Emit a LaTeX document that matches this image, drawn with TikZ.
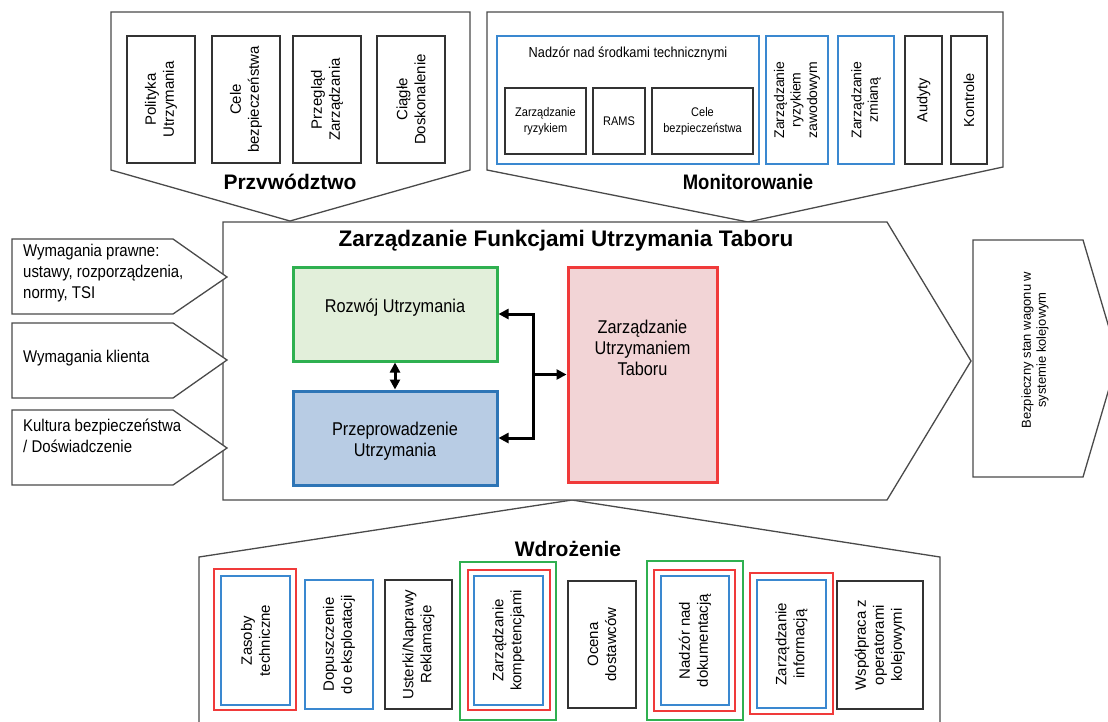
\documentclass[tikz,border=0pt]{standalone}
\usepackage{fontspec}
\setmainfont{Liberation Sans}
\newfontfamily\nar[FakeStretch=0.88]{Liberation Sans}
\usetikzlibrary{arrows.meta}
\definecolor{gline}{HTML}{4A4A4A}
\definecolor{cgreen}{HTML}{2FB050}
\definecolor{cgreenf}{HTML}{E2EFDA}
\definecolor{cblue}{HTML}{2E75B6}
\definecolor{cbluef}{HTML}{B8CCE4}
\definecolor{cred}{HTML}{F03A3A}
\definecolor{credf}{HTML}{F2D4D6}
\definecolor{sblue}{HTML}{3A88D0}
\newcommand{\fsz}[2]{\fontsize{#1}{#2}\selectfont}
\tikzset{
  frame/.style={draw=gline, line width=1.3pt, line join=miter, fill=white},
  bx/.style={draw=black!80, line width=1.2pt, inner sep=0pt, align=center},
  vbx/.style={bx, rotate=90},
  bluebx/.style={draw=sblue, line width=2.4pt},
  redbx/.style={draw=cred, line width=2.4pt, inner sep=0pt},
  greenbx/.style={draw=cgreen, line width=2.4pt, inner sep=0pt},
  rot/.style={font=\fsz{15}{18}},
  rotm/.style={font=\fsz{14}{16.5}},
  centre/.style={font=\nar\fsz{18.5}{21}, align=center, inner sep=0pt},
  cbox/.style={line width=3pt, inner sep=0pt},
  conn/.style={line width=3pt, black, {Triangle[length=10pt,width=10pt]}-{Triangle[length=10pt,width=10pt]}},
  conn1/.style={line width=3pt, black, -{Triangle[length=10pt,width=10pt]}},
  ttl/.style={font=\bfseries\fsz{21}{24}, inner sep=0pt},
  inp/.style={anchor=west, align=left, inner sep=0pt, font=\nar\fsz{17}{21}},
}
\begin{document}
\begin{tikzpicture}[x=1pt,y=-1pt]
\useasboundingbox (0,0) rectangle (1108,721);
\clip (0,0) rectangle (1108,721);
\fill[white] (0,0) rectangle (1108,721);

% ---------- Przywodztwo ----------
\draw[frame] (111,12) -- (470,12) -- (470,170) -- (290,221) -- (111,170) -- cycle;
\node[ttl] (przT) at (290,182) {Przvwództwo};
\node[vbx, rot, minimum width=127, minimum height=68] (pol) at (161,99.5) {Polityka\\Utrzymania};
\node[vbx, rot, minimum width=127, minimum height=68] (cel) at (246,99.5) {Cele\\bezpieczeństwa};
\node[vbx, rot, minimum width=127, minimum height=68] (prz) at (327,99.5) {Przegląd\\Zarządzania};
\node[vbx, rot, minimum width=127, minimum height=68] (cia) at (411,99.5) {Ciągłe\\Doskonalenie};

% ---------- Monitorowanie ----------
\draw[frame] (487,12) -- (1003,12) -- (1003,167) -- (748,222) -- (487,170) -- cycle;
\node[ttl, font=\nar\bfseries\fsz{21}{24}] (monT) at (748,182) {Monitorowanie};
\node[bx, bluebx, minimum width=262, minimum height=128] (nad) at (628,100) {};
\node[font=\nar\fsz{14.5}{17}, inner sep=0pt] (nadT) at (628,54) {Nadzór nad środkami technicznymi};
\node[bx, font=\nar\fsz{12.5}{16}, minimum width=81, minimum height=66] (zr) at (545.5,121) {Zarządzanie\\ryzykiem};
\node[bx, font=\nar\fsz{12.5}{16}, minimum width=52, minimum height=66] (rams) at (619,121) {RAMS};
\node[bx, font=\nar\fsz{12.5}{16}, minimum width=101, minimum height=66] (cb) at (702.5,121) {Cele\\bezpieczeństwa};
\node[vbx, bluebx, rotm, minimum width=128, minimum height=62] (zrz) at (797,100) {Zarządzanie\\ryzykiem\\zawodowym};
\node[vbx, bluebx, rotm, minimum width=128, minimum height=56] (zzm) at (866,100) {Zarządzanie\\zmianą};
\node[vbx, rotm, font=\fsz{14.5}{17}, minimum width=128, minimum height=37] (aud) at (923.5,100) {Audyty};
\node[vbx, rotm, font=\fsz{14.5}{17}, minimum width=128, minimum height=36] (kon) at (969,100) {Kontrole};

% ---------- Wdrozenie ----------
\draw[frame] (199,740) -- (199,557) -- (572,500) -- (940,557) -- (940,740) -- cycle;

% ---------- Central ----------
\draw[frame] (223,222) -- (887,222) -- (971,361) -- (887,500) -- (223,500) -- cycle;
\node[font=\bfseries\fsz{22.5}{26}, inner sep=0pt] (cT) at (566,241) {Zarządzanie Funkcjami Utrzymania Taboru};
\node[cbox, draw=cgreen, fill=cgreenf, minimum width=204, minimum height=94] (roz) at (395,314) {};
\node[centre] (rozT) at (395,308) {Rozwój Utrzymania};
\node[cbox, draw=cblue, fill=cbluef, minimum width=204, minimum height=94] (prze) at (395,438) {};
\node[centre] (przeT) at (395,441.5) {Przeprowadzenie\\Utrzymania};
\node[cbox, draw=cred, fill=credf, minimum width=149, minimum height=215] (zut) at (642.5,374.5) {};
\node[centre] (zutT) at (642.5,348) {Zarządzanie\\Utrzymaniem\\Taboru};

\coordinate (jt) at (533,314);
\coordinate (jb) at (533,438);
\coordinate (jm) at (533,374.5);
\draw[conn] (roz) -- (prze);
\draw[conn, line join=miter] (roz.east) -- (jt) -- (jb) -- (prze.east);
\draw[conn1] (jm) -- (zut.west);

% ---------- Inputs ----------
\draw[frame] (12,239) -- (173,239) -- (227,277) -- (173,314) -- (12,314) -- cycle;
\draw[frame] (12,323) -- (173,323) -- (227,360) -- (173,398) -- (12,398) -- cycle;
\draw[frame] (12,410) -- (173,410) -- (227,448) -- (173,485) -- (12,485) -- cycle;
\node[inp] (in1) at (23,273) {Wymagania prawne:\\ustawy, rozporządzenia,\\normy, TSI};
\node[inp] (in2) at (23,358) {Wymagania klienta};
\node[inp] (in3) at (23,435.5) {Kultura bezpieczeństwa\\/ Doświadczenie};

% ---------- Output ----------
\draw[frame] (973,240) -- (1083,240) -- (1118,358) -- (1083,477) -- (973,477) -- cycle;
\node[rotate=90, font=\fsz{13}{15}, align=center, inner sep=0pt] (out) at (1035,350) {Bezpieczny stan wagonu w\\systemie kolejowym};

% ---------- Wdrozenie content ----------
\node[ttl] (wdT) at (568,549) {Wdrożenie};
\node[redbx, minimum width=82, minimum height=141] (zasR) at (255,639.5) {};
\node[vbx, bluebx, rot, minimum width=129, minimum height=69] (zas) at (255.5,640.5) {Zasoby\\techniczne};
\node[vbx, bluebx, rot, minimum width=129, minimum height=68] (dop) at (339,644.5) {Dopuszczenie\\do eksploatacji};
\node[vbx, rot, minimum width=129, minimum height=67] (ust) at (418.5,644.5) {Usterki/Naprawy\\Reklamacje};
\node[greenbx, minimum width=96, minimum height=158] (zkG) at (508,641) {};
\node[redbx, minimum width=82, minimum height=140] (zkR) at (509,640) {};
\node[vbx, bluebx, rot, minimum width=129, minimum height=69] (zk) at (508.5,640.5) {Zarządzanie\\kompetencjami};
\node[vbx, rot, minimum width=127, minimum height=68] (oce) at (602,644.5) {Ocena\\dostawców};
\node[greenbx, minimum width=96, minimum height=159] (ndG) at (695,640.5) {};
\node[redbx, minimum width=81, minimum height=141] (ndR) at (694.5,640.5) {};
\node[vbx, bluebx, rot, minimum width=129, minimum height=68] (nd) at (695,640.5) {Nadzór nad\\dokumentacją};
\node[redbx, minimum width=83, minimum height=141] (ziR) at (791.5,643.5) {};
\node[vbx, bluebx, rot, minimum width=128, minimum height=69] (zi) at (791.5,644) {Zarządzanie\\informacją};
\node[vbx, rot, minimum width=128, minimum height=86] (wsp) at (880,645) {Współpraca z\\operatorami\\kolejowymi};
\end{tikzpicture}
\end{document}
